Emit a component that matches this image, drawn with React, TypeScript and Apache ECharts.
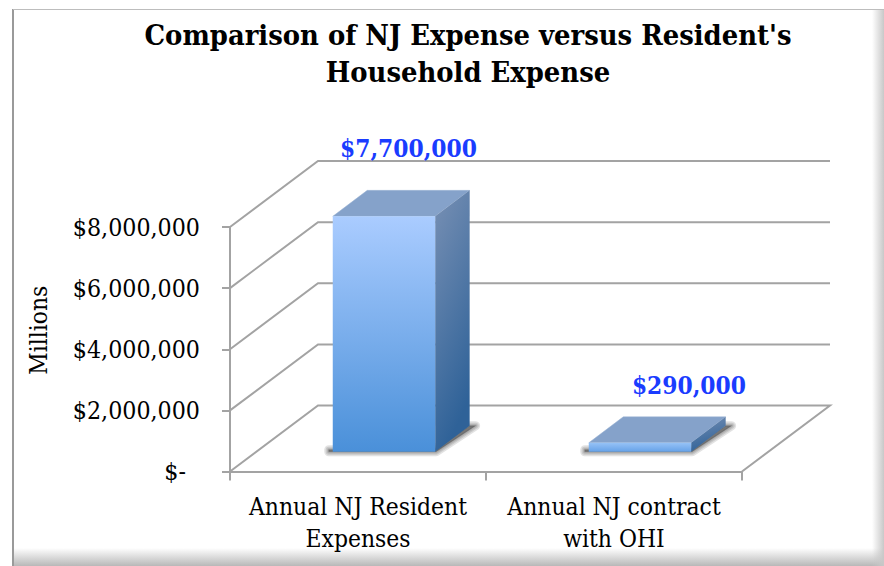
import React, { useEffect, useRef } from "react";
import * as echarts from "echarts";

const categories = ["Annual NJ Resident\nExpenses", "Annual NJ contract\nwith OHI"];
const seriesValues = [7700000, 290000];
const valueLabels = ["$7,700,000", "$290,000"];
const yTicks = [0, 2000000, 4000000, 6000000, 8000000];
const yTickLabels = ["$-  ", "$2,000,000", "$4,000,000", "$6,000,000", "$8,000,000"];
const titleLines = ["Comparison of NJ Expense versus Resident's", "Household Expense"];
const yName = "Millions";

const FONT = "'DejaVu Serif Condensed', 'DejaVu Serif', serif";
const DX = 88;
const DY = 66;
const GRID = "#a3a3a3";

const barFront = new echarts.graphic.LinearGradient(0, 0, 0, 1, [
  { offset: 0, color: "#aaccff" },
  { offset: 1, color: "#4a90d9" },
]);
const barSide = new echarts.graphic.LinearGradient(0, 0, 0.3, 1, [
  { offset: 0, color: "#7890b4" },
  { offset: 1, color: "#2f6298" },
]);
const smallFront = new echarts.graphic.LinearGradient(0, 0, 0, 1, [
  { offset: 0, color: "#96c2f6" },
  { offset: 1, color: "#66a2e8" },
]);

function renderWall(params: any, api: any) {
  const v = api.value(1);
  const band = api.size([1, 0])[0];
  const [cx, y] = api.coord([0, v]);
  const x = cx - band / 2;
  const w = band * categories.length;
  const pts = [
    [x, y],
    [x + DX, y - DY],
    [x + w + DX, y - DY],
  ];
  if (v === 0) pts.push([x + w, y]);
  return {
    type: "polyline",
    shape: { points: pts },
    style: { fill: "none", stroke: GRID, lineWidth: 2 },
    silent: true,
  };
}

function renderBar(params: any, api: any) {
  const i = api.value(0);
  const v = api.value(1);
  const band = api.size([1, 0])[0];
  const [cx, y0] = api.coord([i, 0]);
  const yT = api.coord([i, v])[1];
  const w = band * 0.4;
  const ox = DX * 0.295;
  const oy = DY * 0.3;
  const dx = 34.5;
  const dy = 26;
  const l = cx - w / 2 + ox;
  const r = l + w;
  const b = y0 - oy;
  const t = yT - oy;
  const big = i === 0;
  const lx = big ? (l + r) / 2 + 24.5 : (l + r) / 2 + 49;
  const ly = big ? t - 68 : t - 57;
  const shadowPts = [[l - 4, b], [r + 1, b], [r + dx + 6, b - dy], [r + dx, b - dy], [r, b - 3], [l - 4, b - 2]];
  const softShadow = [9, 6, 3.5, 1.5].map((lineWidth) => ({
    type: "polygon",
    shape: { points: shadowPts },
    style: {
      fill: "rgba(50,50,50,0.14)",
      stroke: "rgba(50,50,50,0.14)",
      lineWidth,
      lineJoin: "round",
    },
  }));
  return {
    type: "group",
    children: [
      ...softShadow,
      {
        type: "polygon",
        shape: { points: [[l, t], [r, t], [r + dx, t - dy], [l + dx, t - dy]] },
        style: { fill: "#85a2ca", stroke: "#9db4d4", lineWidth: 0.5 },
      },
      {
        type: "polygon",
        shape: { points: [[r, t], [r + dx, t - dy], [r + dx, b - dy], [r, b]] },
        style: { fill: barSide },
      },
      {
        type: "rect",
        shape: { x: l, y: t, width: w, height: b - t },
        style: { fill: big ? barFront : smallFront },
      },
      {
        type: "text",
        style: {
          x: lx,
          y: ly,
          text: valueLabels[i],
          fill: "#1a3cff",
          font: `bold 24.3px ${FONT}`,
          textAlign: "center",
          textVerticalAlign: "middle",
        },
      },
    ],
  };
}

export default function App() {
  const ref = useRef<HTMLDivElement>(null);
  useEffect(() => {
    const chart = echarts.init(ref.current!, null, { renderer: "svg" });
    chart.setOption({
      animation: false,
      backgroundColor: "#ffffff",
      graphic: [
        {
          type: "rect",
          z: -9,
          shape: { x: 13, y: 548, width: 871, height: 18 },
          style: {
            fill: new echarts.graphic.LinearGradient(0, 0, 0, 1, [
              { offset: 0, color: "#ffffff" },
              { offset: 1, color: "#b8b8b8" },
            ]),
          },
        },
        {
          type: "rect",
          z: -9,
          shape: { x: 872, y: 9, width: 12, height: 557 },
          style: {
            fill: new echarts.graphic.LinearGradient(0, 0, 1, 0, [
              { offset: 0, color: "rgba(200,200,200,0)" },
              { offset: 1, color: "rgba(200,200,200,1)" },
            ]),
          },
        },
        { type: "line", z: -8, shape: { x1: 13, y1: 9, x2: 13, y2: 566 }, style: { stroke: "#9a9a9a", lineWidth: 2 } },
        { type: "line", z: -8, shape: { x1: 13, y1: 9.5, x2: 884, y2: 9.5 }, style: { stroke: "#bdbdbd", lineWidth: 1 } },
      ],
      title: {
        text: titleLines.join("\n"),
        left: 463,
        top: 11,
        textAlign: "center",
        textStyle: { fontFamily: FONT, fontSize: 28.8, fontWeight: "bold", color: "#000", lineHeight: 37 },
      },
      grid: { left: 230, right: 142, top: 227, bottom: 94.5 },
      xAxis: {
        type: "category",
        data: categories,
        boundaryGap: true,
        axisLine: { lineStyle: { color: GRID, width: 2 } },
        axisTick: { show: true, length: 9, lineStyle: { color: GRID, width: 2 } },
        axisLabel: { fontFamily: FONT, fontSize: 24.4, color: "#000", lineHeight: 32, margin: 19, interval: 0 },
      },
      yAxis: {
        type: "value",
        min: 0,
        max: 8000000,
        interval: 2000000,
        name: yName,
        nameLocation: "middle",
        nameGap: 180,
        nameRotate: 90,
        nameTextStyle: { fontFamily: FONT, fontSize: 24.4, color: "#000", padding: [0, 0, 0, 38] },
        splitLine: { show: false },
        axisLine: { show: true, lineStyle: { color: GRID, width: 2 } },
        axisTick: { show: true, length: 8, lineStyle: { color: GRID, width: 2 } },
        axisLabel: {
          fontFamily: FONT,
          fontSize: 24.7,
          color: "#000",
          margin: 30,
          formatter: (v: number) => yTickLabels[yTicks.indexOf(v)],
        },
      },
      series: [
        {
          type: "custom",
          renderItem: renderWall,
          data: yTicks.map((v) => [0, v]),
          z: 1,
          silent: true,
        },
        {
          type: "custom",
          renderItem: renderBar,
          data: seriesValues.map((v, i) => [i, v]),
          z: 2,
          silent: true,
        },
      ],
    });
    return () => chart.dispose();
  }, []);
  return <div ref={ref} style={{ position: "absolute", left: 0, top: 0, width: 884, height: 566 }} />;
}
